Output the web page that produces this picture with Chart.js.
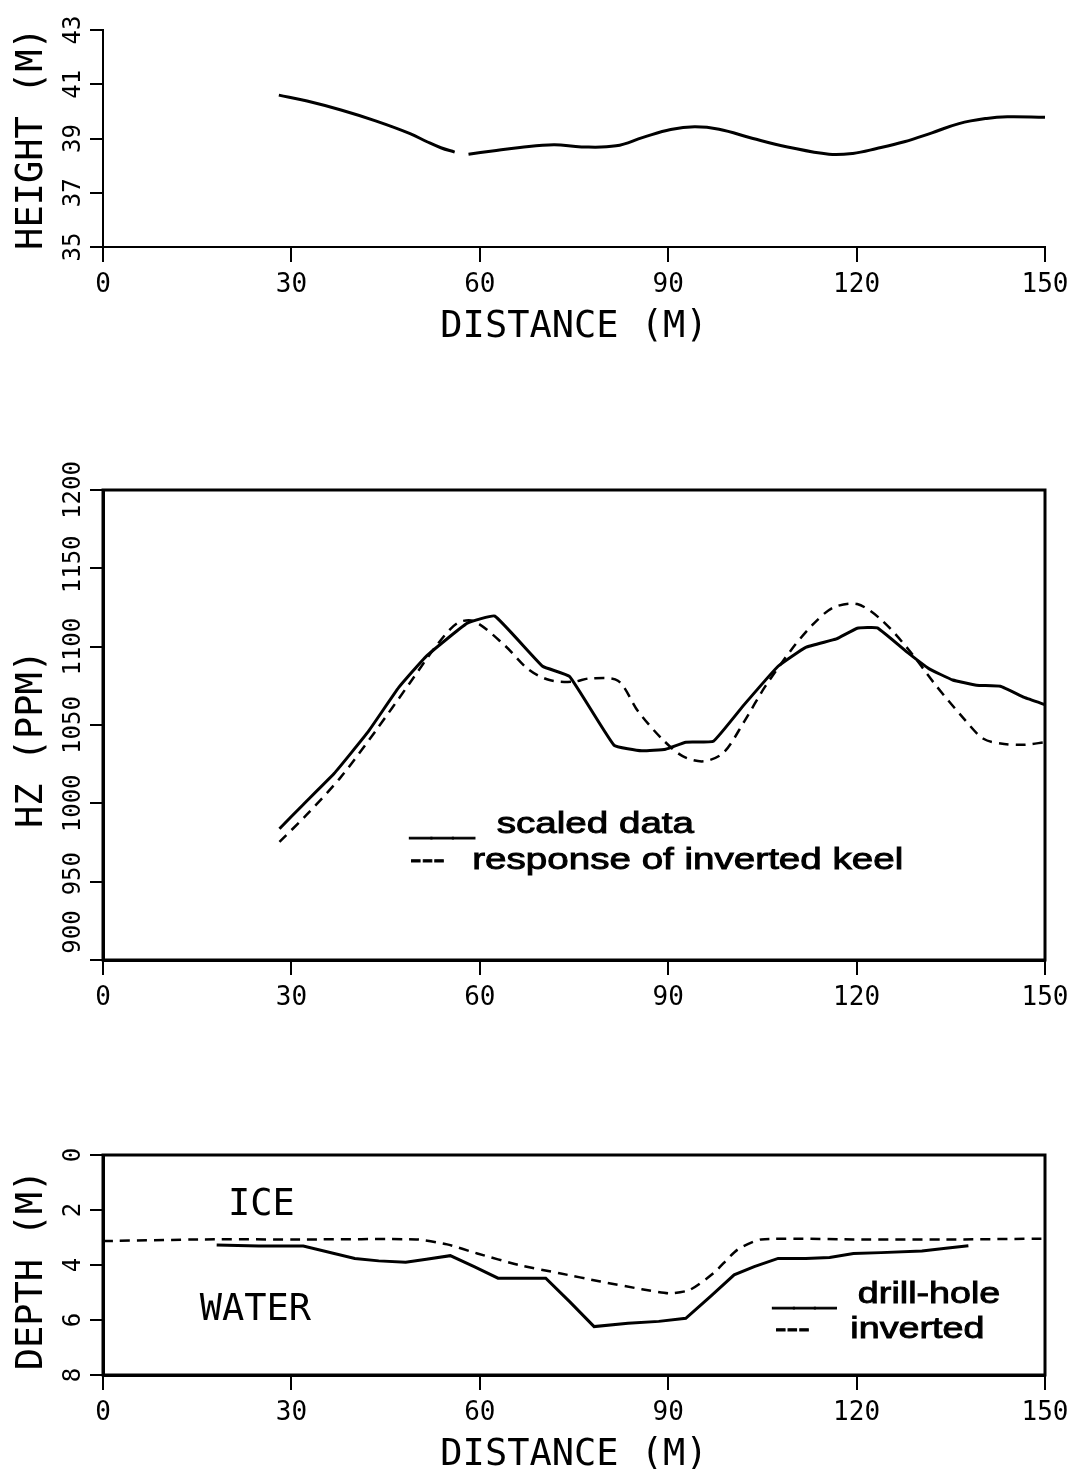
<!DOCTYPE html>
<html><head><meta charset="utf-8">
<script src="https://cdn.jsdelivr.net/npm/chart.js@4.4.1/dist/chart.umd.min.js"></script>
<style>
html,body{margin:0;padding:0;background:#fff;}
#wrap{position:relative;width:1074px;height:1469px;overflow:hidden;background:#fff;}
canvas{position:absolute;left:0;}
</style></head><body>
<div id="wrap">
<canvas id="c1" width="1074" height="345" style="top:0px"></canvas>
<canvas id="c2" width="1074" height="570" style="top:450px"></canvas>
<canvas id="c3" width="1074" height="349" style="top:1120px"></canvas>
</div>
<script>
// ---------- data ----------
const distTicks = ['0','30','60','90','120','150'];
const heightTicks = ['35','37','39','41','43'];
const hzTicks = ['900','950','1000','1050','1100','1150','1200'];
const depthTicks = ['0','2','4','6','8'];

// top panel: surface height
const heightDist = [28,32.5,37.9,43.4,48.9,51.6,53.8,56,57,58.2,62,66.4,71.8,76.2,81.7,86,90.4,94.2,98.1,103.5,109,115.6,119.4,123.2,127.6,132,136.3,140.7,144,150];
const heightVal  = [40.6,40.38,40.05,39.65,39.18,38.88,38.66,38.5,null,38.42,38.54,38.67,38.77,38.69,38.73,39.04,39.33,39.43,39.34,39.0,38.69,38.42,38.45,38.63,38.88,39.21,39.55,39.74,39.8,39.78];

// middle panel: HZ (ppm)
const scaledDist = [28.1,31.9,36.8,42.2,47.1,51.5,58,62.4,70,74.3,81.4,85.8,89.6,92.8,97.2,102.1,107.5,111.9,116.8,120.1,123.3,128.2,131.5,135.3,139.1,142.9,146.7,150];
const scaledHz   = [983.8,999.3,1019,1045.6,1074,1094,1115,1119.5,1087.5,1081,1037,1033.5,1034.5,1039,1039.6,1063,1087.5,1099.6,1105,1111.8,1112,1096,1086,1078.7,1075.4,1074.7,1067.6,1063];
const keelDist = [28.1,32.4,37.9,43.3,48.8,53.1,56.4,59.1,64,67.8,71.1,74.9,77.6,82,85.2,89,92.3,95.6,98.8,102.1,105.4,109.7,113,116.3,120.1,123.9,128.2,132.6,137,140.2,143.5,146.7,150];
const keelHz   = [975.4,992.6,1016.9,1045.6,1076.5,1100.7,1115,1116.2,1100.7,1085.3,1078.7,1077.6,1079.8,1078.2,1058.8,1041.2,1030.1,1026.8,1032.3,1052.2,1074.3,1098.5,1114,1125,1127.2,1117.3,1098.5,1075.4,1054.4,1041.2,1037.9,1037.4,1039];

// bottom panel: depth (m)
const drillDist  = [18.1,24.8,31.9,40.1,43.9,48.2,51.5,55.3,59.1,62.9,66.7,70.5,74.3,78.2,83.6,88.5,92.8,96.7,100.5,103.7,107.5,111.9,115.7,119.5,123.9,130.4,134.2,137.8];
const drillDepth = [3.27,3.31,3.31,3.76,3.85,3.9,3.79,3.66,4.06,4.48,4.48,4.48,5.33,6.24,6.12,6.05,5.94,5.15,4.36,4.06,3.76,3.76,3.73,3.58,3.55,3.49,3.39,3.3];
const invDist  = [0,16.1,32.4,49.9,54.8,59.6,66.2,72.7,79.2,85.8,90.1,93.4,97.2,101,104.8,119.5,135.8,150];
const invDepth = [3.13,3.07,3.07,3.07,3.25,3.58,4.0,4.3,4.6,4.88,5.03,4.91,4.3,3.45,3.07,3.07,3.07,3.04];

// ---------- helpers ----------
const MONO = '"DejaVu Sans Mono", "Liberation Mono", monospace';
const SANS = '"Liberation Sans", Arial, Helvetica, sans-serif';
const pts = (xs, ys) => xs.map((x, i) => ({x: x, y: ys[i]}));

const textPlugin = {
  id: 'plotText',
  afterDraw(chart, args, o) {
    const ctx = chart.ctx, xs = chart.scales.x, ys = chart.scales.y, ca = chart.chartArea;
    ctx.save();
    ctx.fillStyle = '#000'; ctx.strokeStyle = '#000';
    if (o.box) {
      ctx.lineWidth = o.box;
      ctx.strokeRect(ca.left, ca.top, ca.right - ca.left, ca.bottom - ca.top);
    }
    ctx.textBaseline = 'alphabetic';
    // x tick labels
    ctx.font = '26px ' + MONO; ctx.textAlign = 'center';
    o.xTicks.forEach(t => ctx.fillText(t, xs.getPixelForValue(+t), ca.bottom + 45));
    if (o.xTitle) {
      ctx.font = '37px ' + MONO;
      ctx.fillText(o.xTitle, (ca.left + ca.right) / 2, ca.bottom + 90);
    }
    // y tick labels (rotated)
    ctx.font = '24px ' + MONO;
    o.yTicks.forEach((t, i) => {
      const py = ys.getPixelForValue(+t) + ((o.yShift && o.yShift[i]) || 0);
      ctx.save(); ctx.translate(80, py); ctx.rotate(-Math.PI / 2);
      ctx.textAlign = 'center'; ctx.fillText(t, 0, 0); ctx.restore();
    });
    // y title
    ctx.font = '37px ' + MONO;
    ctx.save(); ctx.translate(42, (ca.top + ca.bottom) / 2 + (o.yTitleShift || 0)); ctx.rotate(-Math.PI / 2);
    ctx.textAlign = 'center'; ctx.fillText(o.yTitle, 0, 0); ctx.restore();
    // notes / legend
    (o.notes || []).forEach(n => {
      ctx.save(); ctx.font = n.font; ctx.textAlign = 'left';
      ctx.translate(xs.getPixelForValue(n.x), ys.getPixelForValue(n.y));
      ctx.scale(n.sx || 1, 1);
      ctx.fillText(n.text, 0, 0);
      if (n.bold) { ctx.lineWidth = n.bold; ctx.strokeText(n.text, 0, 0); }
      ctx.restore();
    });
    ctx.restore();
  }
};

function axisX(borderW, h) {
  return {type: 'linear', min: 0, max: 150,
    ticks: {stepSize: 30, display: false},
    grid: {drawOnChartArea: false, drawTicks: true, tickLength: 15, color: '#000', lineWidth: 2},
    border: {display: true, color: '#000', width: borderW},
    afterFit(s) { s.height = h; }};
}
function axisY(min, max, step, borderW, reverse) {
  return {type: 'linear', min: min, max: max, reverse: !!reverse,
    ticks: {stepSize: step, display: false},
    grid: {drawOnChartArea: false, drawTicks: true, tickLength: 13, color: '#000', lineWidth: 2},
    border: {display: true, color: '#000', width: borderW},
    afterFit(s) { s.width = 103; }};
}
function ds(data, dash, width, tension) {
  return {data: data, borderColor: '#000', borderWidth: width, borderDash: dash || [],
    pointRadius: 0, fill: false, tension: tension, spanGaps: false};
}
const base = (padTop, scales, datasets, txt) => ({
  type: 'line',
  data: {datasets: datasets},
  options: {
    responsive: false, animation: false, devicePixelRatio: 1,
    layout: {padding: {top: padTop, right: 29, left: 0, bottom: 0}},
    scales: scales,
    plugins: {legend: {display: false}, tooltip: {enabled: false}, plotText: txt}
  },
  plugins: [textPlugin]
});

// ---------- top ----------
new Chart(document.getElementById('c1'), base(30,
  {x: axisX(2, 98), y: axisY(35, 43, 2, 2)},
  [ds(pts(heightDist, heightVal), null, 3, 0.4)],
  {xTicks: distTicks, xTitle: 'DISTANCE (M)', yTicks: heightTicks, yTitle: 'HEIGHT (M)'}
));

// ---------- middle ----------
const legendFont = '29px ' + SANS;
new Chart(document.getElementById('c2'), base(40,
  {x: axisX(3, 60), y: axisY(900, 1200, 50, 3)},
  [ds(pts(scaledDist, scaledHz), null, 3, 0.1),
   ds(pts(keelDist, keelHz), [10, 7], 2.5, 0.3)],
  {box: 3, xTicks: distTicks, yTicks: hzTicks, yShift: [-28, -8, 0, 0, 0, -4, 0],
   yTitle: 'HZ (PPM)', yTitleShift: 14,
   notes: [
     {text: '___', x: 48.9, y: 981, font: legendFont, sx: 1.33, bold: 0.9},
     {text: 'scaled data', x: 62.7, y: 981, font: legendFont, sx: 1.33, bold: 0.9},
     {text: '---', x: 48.9, y: 958, font: legendFont, sx: 1.2, bold: 0.9},
     {text: 'response of inverted keel', x: 58.8, y: 958, font: legendFont, sx: 1.33, bold: 0.9}
   ]}
));

// ---------- bottom ----------
new Chart(document.getElementById('c3'), base(35,
  {x: axisX(3, 94), y: axisY(0, 8, 2, 3, true)},
  [ds(pts(drillDist, drillDepth), null, 3, 0),
   ds(pts(invDist, invDepth), [10, 7], 2.5, 0.2)],
  {box: 3, xTicks: distTicks, xTitle: 'DISTANCE (M)', yTicks: depthTicks, yTitle: 'DEPTH (M)', yTitleShift: 5,
   notes: [
     {text: 'ICE', x: 19.9, y: 2.18, font: '37px ' + MONO},
     {text: 'WATER', x: 15.4, y: 6.0, font: '37px ' + MONO},
     {text: '___', x: 106.7, y: 5.38, font: legendFont, sx: 1.3, bold: 0.9},
     {text: 'drill-hole', x: 120.2, y: 5.38, font: legendFont, sx: 1.3, bold: 0.9},
     {text: '---', x: 107, y: 6.65, font: legendFont, sx: 1.2, bold: 0.9},
     {text: 'inverted', x: 119, y: 6.65, font: legendFont, sx: 1.3, bold: 0.9}
   ]}
));
</script>
</body></html>
